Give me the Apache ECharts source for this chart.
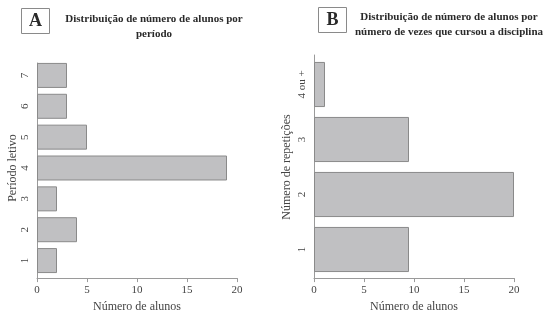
<!DOCTYPE html>
<html>
<head>
<meta charset="utf-8">
<script src="https://cdn.jsdelivr.net/npm/echarts@6/dist/echarts.min.js"></script>
<style>
  html, body { margin: 0; padding: 0; background: #fff; }
  #chart { width: 550px; height: 318px; }
</style>
</head>
<body>
<div id="chart"></div>
<script>
// dados
var periodos = ['1', '2', '3', '4', '5', '6', '7'];
var alunosPorPeriodo = [2, 4, 2, 19, 5, 3, 3];
var repeticoes = ['1', '2', '3', '4 ou +'];
var alunosPorRepeticao = [9.5, 20, 9.5, 1.1];
var xTicks = [0, 5, 10, 15, 20];

var serif = '"Liberation Serif", "DejaVu Serif", serif';
var barFill = '#c0c0c2';
var barEdge = '#8a8a8a';
var axisColor = '#9a9a9a';
var textColor = '#444';

var chart = echarts.init(document.getElementById('chart'));

// eixo x visivel (com linha vertical do eixo y)
function frameX(idx) {
  return {
    gridIndex: idx, type: 'value',
    min: xTicks[0], max: xTicks[xTicks.length - 1], interval: xTicks[1] - xTicks[0],
    name: 'Número de alunos', nameLocation: 'middle', nameGap: 17,
    nameTextStyle: { fontFamily: serif, fontSize: 12, color: textColor },
    axisLine: { show: true, lineStyle: { color: axisColor, width: 1 } },
    axisTick: { show: true, length: 4, lineStyle: { color: axisColor } },
    axisLabel: { fontFamily: serif, fontSize: 11, color: textColor, margin: 7 },
    splitLine: { show: false }
  };
}
function frameY(idx) {
  return {
    gridIndex: idx, type: 'value', min: 0, max: 1,
    axisLine: { show: true, lineStyle: { color: axisColor, width: 1 } },
    axisTick: { show: false }, axisLabel: { show: false }, splitLine: { show: false }
  };
}
function barX(idx) {
  return { gridIndex: idx, type: 'value', min: 0, max: 20, show: false };
}
function barY(idx, cats, name, gap) {
  return {
    gridIndex: idx, type: 'category', data: cats,
    name: name, nameLocation: 'middle', nameGap: gap, nameRotate: 90,
    nameTextStyle: { fontFamily: serif, fontSize: 12, color: textColor },
    axisLine: { show: false }, axisTick: { show: false },
    axisLabel: { rotate: 90, fontFamily: serif, fontSize: 11, color: textColor, margin: 6 }
  };
}

chart.setOption({
  animation: false,
  backgroundColor: '#fff',
  title: [
    {
      text: 'Distribuição de número de alunos por\nperíodo',
      left: 149, top: 7, textAlign: 'center',
      textStyle: { fontFamily: serif, fontSize: 11, fontWeight: 'bold', color: '#2a2a2a', lineHeight: 15 }
    },
    {
      text: 'Distribuição de número de alunos por\nnúmero de vezes que cursou a disciplina',
      left: 444, top: 5, textAlign: 'center',
      textStyle: { fontFamily: serif, fontSize: 11, fontWeight: 'bold', color: '#2a2a2a', lineHeight: 15 }
    }
  ],
  graphic: [
    { type: 'rect', shape: { x: 21.5, y: 8.5, width: 28, height: 25 },
      style: { fill: '#fff', stroke: '#8a8a8a', lineWidth: 1 } },
    { type: 'text', x: 35.5, y: 21.5, style: { text: 'A', font: 'bold 18px ' + serif, fill: '#2a2a2a', align: 'center', verticalAlign: 'middle' } },
    { type: 'rect', shape: { x: 318.5, y: 7.5, width: 28, height: 25 },
      style: { fill: '#fff', stroke: '#8a8a8a', lineWidth: 1 } },
    { type: 'text', x: 332.5, y: 20.5, style: { text: 'B', font: 'bold 18px ' + serif, fill: '#2a2a2a', align: 'center', verticalAlign: 'middle' } }
  ],
  grid: [
    { left: 37, width: 200, top: 60, height: 216 },   // barras A
    { left: 37, width: 200, top: 63, height: 218 },   // eixos A
    { left: 314, width: 200, top: 57, height: 220 },  // barras B
    { left: 314, width: 200, top: 55, height: 224 }   // eixos B
  ],
  xAxis: [barX(0), frameX(1), barX(2), frameX(3)],
  yAxis: [
    barY(0, periodos, 'Período letivo', 18),
    frameY(1),
    barY(2, repeticoes, 'Número de repetições', 21),
    frameY(3)
  ],
  series: [
    {
      type: 'bar', xAxisIndex: 0, yAxisIndex: 0, data: alunosPorPeriodo,
      barCategoryGap: '19%',
      itemStyle: { color: barFill, borderColor: barEdge, borderWidth: 1 }
    },
    {
      type: 'bar', xAxisIndex: 2, yAxisIndex: 2, data: alunosPorRepeticao,
      barCategoryGap: '18%',
      itemStyle: { color: barFill, borderColor: barEdge, borderWidth: 1 }
    }
  ]
});
</script>
</body>
</html>
